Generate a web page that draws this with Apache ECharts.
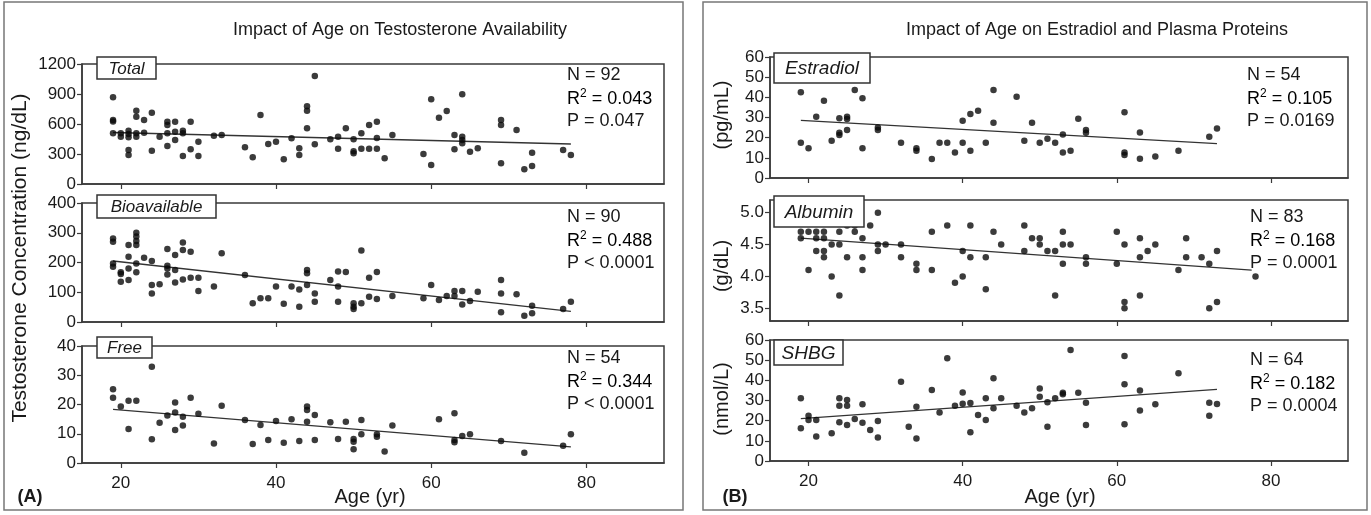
<!DOCTYPE html>
<html><head><meta charset="utf-8">
<script src="https://cdn.jsdelivr.net/npm/echarts@6/dist/echarts.min.js"></script>
<style>html,body{margin:0;padding:0;background:#fff}#c{width:1371px;height:515px}</style>
</head><body><div id="c"></div>
<script>
// ---------- DATA ----------
const ageTicks = [20, 40, 60, 80];
const albuminTicks = [3.5, 4.0, 4.5, 5.0];

const totalPts = [[19,867],[19,640],[19,625],[19,507],[20,507],[20,473],[21,533],[21,500],[21,467],[21,340],[21,290],
 [22,733],[22,673],[22,507],[22,473],[23,640],[23,513],[24,713],[24,333],[25,473],[26,623],[26,590],[26,507],[26,380],
 [27,623],[27,523],[27,440],[28,533],[28,507],[28,280],[29,623],[29,347],[30,423],[30,280],[32,483],[33,490],[36,367],
 [37,267],[38,690],[39,400],[40,423],[41,247],[42,457],[43,357],[43,290],[44,777],[44,733],[44,557],[45,1080],[45,397],
 [47,447],[48,473],[48,353],[49,557],[50,447],[50,327],[50,307],[51,507],[51,353],[52,590],[52,353],[53,623],[53,460],
 [53,353],[54,257],[55,490],[59,300],[60,847],[60,190],[61,663],[62,730],[63,490],[63,347],[64,897],[64,473],[64,440],
 [64,407],[65,323],[66,357],[69,640],[69,590],[69,207],[71,540],[72,147],[73,313],[73,180],[77,340],[78,290]];
const totalFit = [[19,515],[78,400]];

const bioPts = [[19,281],[19,270],[19,197],[19,186],[20,167],[20,161],[20,135],[21,259],[21,219],[21,180],[21,141],
 [22,300],[22,287],[22,272],[22,259],[22,197],[22,167],[23,216],[24,205],[24,124],[24,96],[25,127],[26,245],[26,189],
 [26,180],[26,160],[27,225],[27,175],[27,133],[28,267],[28,242],[28,143],[29,236],[29,149],[30,149],[30,104],[32,119],
 [33,231],[36,158],[37,63],[38,80],[39,80],[40,119],[41,61],[42,119],[43,109],[43,51],[44,175],[44,164],[44,124],
 [45,96],[45,68],[47,141],[48,170],[48,119],[48,68],[49,168],[50,63],[50,51],[50,44],[51,240],[51,63],[52,149],[52,85],
 [53,168],[53,77],[55,87],[59,80],[60,124],[61,74],[62,87],[63,104],[63,87],[64,104],[64,59],[65,71],[66,102],
 [69,141],[69,96],[69,33],[71,93],[72,21],[73,55],[73,29],[77,44],[78,68]];
const bioFit = [[19,205],[78,36]];

const freePts = [[19,25.2],[19,22.3],[20,19.3],[21,21.3],[21,11.6],[22,21.3],[24,32.9],[24,8.1],[25,13.8],[26,16.2],
 [27,20.7],[27,17.3],[27,11.3],[28,15.8],[28,12.8],[29,22.3],[30,16.8],[32,6.7],[33,19.6],[36,14.7],[37,6.5],[38,13.0],
 [39,7.9],[40,14.4],[41,6.9],[42,15.0],[43,7.5],[44,19.3],[44,18.1],[44,14.1],[45,16.4],[45,7.9],[47,13.9],[48,8.2],
 [49,14.1],[50,8.2],[50,7.3],[50,4.7],[51,14.7],[51,9.8],[53,9.8],[53,9.0],[54,3.9],[55,12.8],[61,15.0],[63,17.0],
 [63,7.9],[63,7.1],[64,9.2],[65,9.8],[69,7.5],[72,3.5],[77,5.9],[78,9.8]];
const freeFit = [[19,18.3],[78,5.5]];

const estradiolPts = [[19,42.5],[19,17.5],[20,14.7],[21,30.4],[22,38.3],[23,18.5],[24,29.6],[24,22.5],[24,21.3],[25,30.4],
 [25,29.3],[25,23.8],[26,43.6],[27,39.5],[27,14.7],[29,25.1],[29,23.8],[32,17.5],[34,14.7],[34,13.5],[36,9.4],[37,17.5],
 [38,17.5],[39,12.6],[40,28.4],[40,17.5],[41,31.7],[41,13.5],[42,33.4],[43,17.5],[44,43.6],[44,27.4],[47,40.3],[48,18.5],
 [49,27.4],[50,17.5],[51,19.5],[52,17.5],[53,21.6],[53,12.6],[54,13.5],[55,29.4],[56,23.8],[56,22.5],[61,32.6],[61,12.6],
 [61,11.4],[63,22.6],[63,9.6],[65,10.6],[68,13.5],[72,20.5],[73,24.5]];
const estradiolFit = [[19,28.6],[73,17]];

const albuminPts = [[19,4.7],[19,4.6],[20,4.7],[20,4.1],[21,4.7],[21,4.6],[21,4.4],[22,4.7],[22,4.6],[22,4.4],[22,4.3],
 [23,4.5],[23,4.0],[24,4.7],[24,4.5],[24,3.7],[25,4.8],[25,4.3],[26,4.7],[26,4.8],[27,4.6],[27,4.3],[27,4.1],[28,4.8],
 [29,5.0],[29,4.5],[29,4.4],[30,4.5],[32,4.5],[32,4.3],[34,4.2],[34,4.1],[36,4.7],[36,4.1],[38,4.8],[39,3.9],[40,4.4],
 [40,4.0],[41,4.8],[41,4.3],[43,4.3],[43,3.8],[44,4.7],[45,4.5],[48,4.8],[48,4.4],[49,4.6],[50,4.6],[50,4.5],[51,4.4],
 [52,4.4],[52,3.7],[53,4.7],[53,4.5],[53,4.2],[54,4.5],[56,4.3],[56,4.2],[60,4.7],[60,4.2],[61,4.5],[61,3.6],[61,3.5],
 [63,4.6],[63,4.3],[63,3.7],[64,4.4],[65,4.5],[68,4.1],[69,4.6],[69,4.3],[71,4.3],[72,4.2],[72,3.5],[73,4.4],[73,3.6],
 [78,4.0]];
const albuminFit = [[19,4.6],[77.5,4.1]];

const shbgPts = [[19,31.1],[19,16.2],[20,22.5],[20,20.3],[21,20.3],[21,12.1],[23,13.7],[24,31.1],[24,27.4],[24,19.2],
 [25,30.2],[25,27.4],[25,17.9],[26,20.8],[27,28.1],[27,19.0],[28,15.4],[29,19.8],[29,11.7],[32,39.3],[33,17.0],[34,26.9],
 [34,11.2],[36,35.2],[37,24.1],[38,50.9],[39,27.4],[40,34.0],[40,28.4],[41,28.8],[41,14.2],[42,22.8],[43,31.1],[43,20.3],
 [44,41.0],[44,26.1],[45,31.1],[47,27.4],[48,24.1],[49,26.1],[50,36.0],[50,31.9],[51,29.1],[51,17.0],[52,31.1],[53,33.9],
 [53,33.1],[54,55.0],[55,33.9],[56,28.9],[56,17.9],[61,52.1],[61,38.0],[61,18.2],[63,35.0],[63,25.1],[65,28.1],[68,43.5],
 [72,28.9],[73,28.3],[72,22.5]];
const shbgFit = [[19,21],[73,35.5]];

const panelLabels = ['Total', 'Bioavailable', 'Free', 'Estradiol', 'Albumin', 'SHBG'];
const statN = ['92', '90', '54', '54', '83', '64'];
const statR2 = ['0.043', '0.488', '0.344', '0.105', '0.168', '0.182'];
const statP = ['= 0.047', '< 0.0001', '< 0.0001', '= 0.0169', '= 0.0001', '= 0.0004'];

// ---------- LAYOUT ----------
const FONT = "'Liberation Sans', Arial, Helvetica, sans-serif";
const AX = '#3a3a3a';
const TXT = '#1a1a1a';
const grids = [
  {left: 82, top: 64, width: 582, height: 120},
  {left: 82, top: 203, width: 582, height: 119},
  {left: 82, top: 346, width: 582, height: 117},
  {left: 770, top: 57, width: 578, height: 121},
  {left: 770, top: 200, width: 578, height: 121},
  {left: 770, top: 340, width: 578, height: 121}
];
const yCfg = [
  {min: 0, max: 1200, interval: 300},
  {min: 0, max: 400, interval: 100},
  {min: 0, max: 40, interval: 10},
  {min: 0, max: 60, interval: 10},
  {min: 3.3, max: 5.2, custom: albuminTicks},
  {min: 0, max: 60, interval: 10}
];
const pts = [totalPts, bioPts, freePts, estradiolPts, albuminPts, shbgPts];
const fits = [totalFit, bioFit, freeFit, estradiolFit, albuminFit, shbgFit];

const xAxes = grids.map((g, i) => ({
  type: 'value', gridIndex: i, min: 15, max: 90,
  axisLine: {show: true, onZero: false, lineStyle: {color: AX, width: 1.5}},
  axisTick: {show: true, length: 5, customValues: ageTicks, lineStyle: {color: AX, width: 1.2}},
  axisLabel: {show: i === 2 || i === 5, customValues: ageTicks, fontSize: 17, fontFamily: FONT, color: TXT, margin: 12},
  splitLine: {show: false}
}));
const yAxes = grids.map((g, i) => {
  const c = yCfg[i];
  const ax = {
    type: 'value', gridIndex: i, min: c.min, max: c.max,
    axisLine: {show: true, onZero: false, lineStyle: {color: AX, width: 1.5}},
    axisTick: {show: true, length: 5, lineStyle: {color: AX, width: 1.2}},
    axisLabel: {fontSize: 17, fontFamily: FONT, color: TXT, margin: 6, formatter: v => String(v)},
    splitLine: {show: false}
  };
  if (c.custom) {
    ax.axisTick.customValues = c.custom;
    ax.axisLabel.customValues = c.custom;
    ax.axisLabel.formatter = v => Number(v).toFixed(1);
  } else {
    ax.interval = c.interval;
  }
  return ax;
});
const series = [];
pts.forEach((p, i) => {
  series.push({type: 'scatter', xAxisIndex: i, yAxisIndex: i, data: p, symbolSize: 6.5,
    itemStyle: {color: '#0a0a0a'}, silent: true, z: 3});
  series.push({type: 'line', xAxisIndex: i, yAxisIndex: i, data: fits[i], showSymbol: false,
    lineStyle: {color: '#333', width: 1.3}, silent: true, z: 2});
});

// ---------- GRAPHICS (frames, labels, annotations) ----------
const gfx = [];
gfx.push({type: 'rect', shape: {x: 4, y: 2, width: 679, height: 508}, style: {fill: 'none', stroke: '#777', lineWidth: 1.5}, z: 0});
gfx.push({type: 'rect', shape: {x: 703, y: 2, width: 664, height: 508}, style: {fill: 'none', stroke: '#777', lineWidth: 1.5}, z: 0});
gfx.push({type: 'text', x: 400, y: 30, style: {text: 'Impact of Age on Testosterone Availability', font: '18px ' + FONT, fill: TXT, align: 'center', verticalAlign: 'middle'}});
gfx.push({type: 'text', x: 1097, y: 30, style: {text: 'Impact of Age on Estradiol and Plasma Proteins', font: '18px ' + FONT, fill: TXT, align: 'center', verticalAlign: 'middle'}});

const boxes = [
  {x: 97, y: 57, w: 59, h: 22, fs: 17},
  {x: 97, y: 195, w: 119, h: 23, fs: 17},
  {x: 97, y: 337, w: 55, h: 21, fs: 17},
  {x: 774, y: 53, w: 96, h: 30, fs: 19},
  {x: 774, y: 196, w: 90, h: 31, fs: 19},
  {x: 774, y: 340, w: 69, h: 25, fs: 19}
];
boxes.forEach((b, i) => {
  gfx.push({type: 'rect', shape: {x: b.x, y: b.y, width: b.w, height: b.h}, style: {fill: '#fff', stroke: '#333', lineWidth: 1.5}, z: 10});
  gfx.push({type: 'text', x: b.x + b.w / 2, y: b.y + b.h / 2 + 1, style: {text: panelLabels[i], font: 'italic ' + b.fs + 'px ' + FONT, fill: TXT, align: 'center', verticalAlign: 'middle'}, z: 11});
});

const statPos = [
  {x: 567, y: 75}, {x: 567, y: 217}, {x: 567, y: 358},
  {x: 1247, y: 75}, {x: 1250, y: 217}, {x: 1250, y: 360}
];
statPos.forEach((s, i) => {
  gfx.push({type: 'text', x: s.x, y: s.y, style: {text: 'N = ' + statN[i], font: '18px ' + FONT, fill: TXT, align: 'left', verticalAlign: 'middle'}, z: 11});
  gfx.push({type: 'text', x: s.x, y: s.y + 23, style: {
    text: '{a|R}{s|2}{a| = ' + statR2[i] + '}', align: 'left', verticalAlign: 'middle',
    rich: {a: {fontSize: 18, fontFamily: FONT, color: TXT, lineHeight: 20, verticalAlign: 'bottom'},
           s: {fontSize: 12, fontFamily: FONT, color: TXT, lineHeight: 20, verticalAlign: 'top', padding: [0, 0, 8, 0]}}}, z: 11});
  gfx.push({type: 'text', x: s.x, y: s.y + 46, style: {text: 'P ' + statP[i], font: '18px ' + FONT, fill: TXT, align: 'left', verticalAlign: 'middle'}, z: 11});
});

gfx.push({type: 'text', x: 20, y: 258, rotation: Math.PI / 2, style: {text: 'Testosterone Concentration (ng/dL)', font: '21px ' + FONT, fill: TXT, align: 'center', verticalAlign: 'middle'}});
gfx.push({type: 'text', x: 722, y: 115, rotation: Math.PI / 2, style: {text: '(pg/mL)', font: '20px ' + FONT, fill: TXT, align: 'center', verticalAlign: 'middle'}});
gfx.push({type: 'text', x: 722, y: 266, rotation: Math.PI / 2, style: {text: '(g/dL)', font: '20px ' + FONT, fill: TXT, align: 'center', verticalAlign: 'middle'}});
gfx.push({type: 'text', x: 722, y: 399, rotation: Math.PI / 2, style: {text: '(nmol/L)', font: '20px ' + FONT, fill: TXT, align: 'center', verticalAlign: 'middle'}});
gfx.push({type: 'text', x: 370, y: 497, style: {text: 'Age (yr)', font: '20px ' + FONT, fill: TXT, align: 'center', verticalAlign: 'middle'}});
gfx.push({type: 'text', x: 1060, y: 497, style: {text: 'Age (yr)', font: '20px ' + FONT, fill: TXT, align: 'center', verticalAlign: 'middle'}});
gfx.push({type: 'text', x: 30, y: 497, style: {text: '(A)', font: 'bold 18px ' + FONT, fill: TXT, align: 'center', verticalAlign: 'middle'}});
gfx.push({type: 'text', x: 735, y: 497, style: {text: '(B)', font: 'bold 18px ' + FONT, fill: TXT, align: 'center', verticalAlign: 'middle'}});

const chart = echarts.init(document.getElementById('c'), null, {renderer: 'canvas'});
chart.setOption({
  animation: false,
  backgroundColor: '#fff',
  grid: grids.map(g => Object.assign({show: true, borderColor: AX, borderWidth: 1.5, backgroundColor: 'transparent', containLabel: false}, g)),
  xAxis: xAxes,
  yAxis: yAxes,
  series: series,
  graphic: {elements: gfx}
});
</script>
</body></html>
